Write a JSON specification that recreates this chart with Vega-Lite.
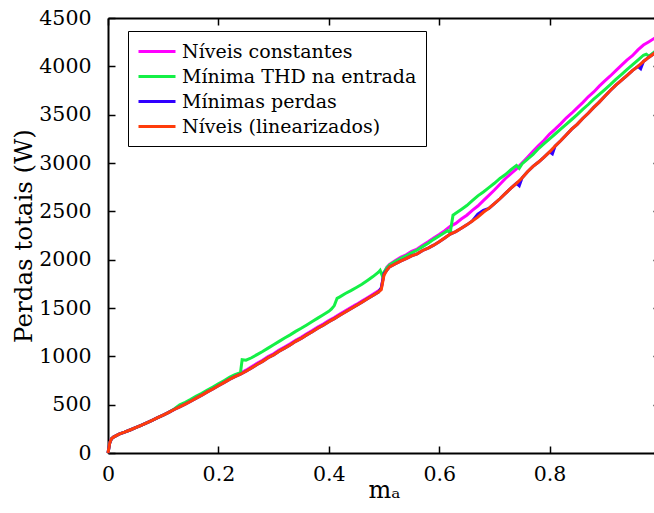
{
  "$schema": "https://vega.github.io/schema/vega-lite/v6.json",
  "width": 552,
  "height": 435,
  "autosize": {"type": "none"},
  "padding": {"left": 108, "top": 18, "right": 0, "bottom": 60},
  "background": "white",
  "datasets": {
    "l": [
      {"x":0,"y":0},{"x":0.003,"y":100},{"x":0.006,"y":145},{"x":0.01,"y":165},{"x":0.02,"y":195},{"x":0.03,"y":215},{"x":0.04,"y":238},{"x":0.05,"y":262},{"x":0.06,"y":287},{"x":0.07,"y":312},{"x":0.08,"y":338},{"x":0.09,"y":365},{"x":0.1,"y":392},{"x":0.11,"y":420},{"x":0.12,"y":450},{"x":0.13,"y":478},{"x":0.14,"y":505},{"x":0.15,"y":535},{"x":0.16,"y":568},{"x":0.17,"y":598},{"x":0.18,"y":632},{"x":0.19,"y":662},{"x":0.2,"y":695},{"x":0.21,"y":728},{"x":0.22,"y":762},{"x":0.23,"y":790},{"x":0.24,"y":815},{"x":0.25,"y":845},{"x":0.26,"y":880},{"x":0.27,"y":915},{"x":0.28,"y":948},{"x":0.29,"y":985},{"x":0.3,"y":1015},{"x":0.31,"y":1052},{"x":0.32,"y":1085},{"x":0.33,"y":1118},{"x":0.34,"y":1155},{"x":0.35,"y":1185},{"x":0.36,"y":1222},{"x":0.37,"y":1255},{"x":0.38,"y":1290},{"x":0.39,"y":1322},{"x":0.4,"y":1358},{"x":0.41,"y":1390},{"x":0.42,"y":1425},{"x":0.43,"y":1458},{"x":0.44,"y":1492},{"x":0.45,"y":1525},{"x":0.46,"y":1560},{"x":0.47,"y":1595},{"x":0.48,"y":1630},{"x":0.49,"y":1665},{"x":0.495,"y":1690},{"x":0.5,"y":1840},{"x":0.505,"y":1890},{"x":0.51,"y":1925},{"x":0.52,"y":1955},{"x":0.53,"y":1985},{"x":0.54,"y":2010},{"x":0.55,"y":2040},{"x":0.56,"y":2060},{"x":0.57,"y":2095},{"x":0.58,"y":2120},{"x":0.59,"y":2150},{"x":0.6,"y":2185},{"x":0.61,"y":2225},{"x":0.62,"y":2265},{"x":0.63,"y":2290},{"x":0.64,"y":2325},{"x":0.65,"y":2360},{"x":0.66,"y":2400},{"x":0.67,"y":2440},{"x":0.68,"y":2490},{"x":0.69,"y":2530},{"x":0.7,"y":2580},{"x":0.71,"y":2630},{"x":0.72,"y":2685},{"x":0.73,"y":2740},{"x":0.74,"y":2790},{"x":0.75,"y":2845},{"x":0.76,"y":2910},{"x":0.77,"y":2965},{"x":0.78,"y":3010},{"x":0.79,"y":3060},{"x":0.8,"y":3115},{"x":0.81,"y":3175},{"x":0.82,"y":3230},{"x":0.83,"y":3290},{"x":0.84,"y":3350},{"x":0.85,"y":3400},{"x":0.86,"y":3460},{"x":0.87,"y":3515},{"x":0.88,"y":3575},{"x":0.89,"y":3630},{"x":0.9,"y":3690},{"x":0.91,"y":3750},{"x":0.92,"y":3805},{"x":0.93,"y":3855},{"x":0.94,"y":3905},{"x":0.95,"y":3955},{"x":0.96,"y":4000},{"x":0.97,"y":4050},{"x":0.98,"y":4095},{"x":0.99,"y":4135},{"x":1.0,"y":4175}
    ],
    "p": [
      {"x":0,"y":0},{"x":0.003,"y":100},{"x":0.006,"y":145},{"x":0.01,"y":165},{"x":0.02,"y":195},{"x":0.03,"y":215},{"x":0.04,"y":238},{"x":0.05,"y":262},{"x":0.06,"y":287},{"x":0.07,"y":312},{"x":0.08,"y":338},{"x":0.09,"y":365},{"x":0.1,"y":392},{"x":0.11,"y":420},{"x":0.12,"y":450},{"x":0.13,"y":478},{"x":0.14,"y":505},{"x":0.15,"y":535},{"x":0.16,"y":568},{"x":0.17,"y":598},{"x":0.18,"y":632},{"x":0.19,"y":662},{"x":0.2,"y":695},{"x":0.21,"y":728},{"x":0.22,"y":762},{"x":0.23,"y":790},{"x":0.24,"y":815},{"x":0.25,"y":845},{"x":0.26,"y":880},{"x":0.27,"y":915},{"x":0.28,"y":948},{"x":0.29,"y":985},{"x":0.3,"y":1015},{"x":0.31,"y":1052},{"x":0.32,"y":1085},{"x":0.33,"y":1118},{"x":0.34,"y":1155},{"x":0.35,"y":1185},{"x":0.36,"y":1222},{"x":0.37,"y":1255},{"x":0.38,"y":1290},{"x":0.39,"y":1322},{"x":0.4,"y":1358},{"x":0.41,"y":1390},{"x":0.42,"y":1425},{"x":0.43,"y":1458},{"x":0.44,"y":1492},{"x":0.45,"y":1525},{"x":0.46,"y":1560},{"x":0.47,"y":1595},{"x":0.48,"y":1630},{"x":0.49,"y":1665},{"x":0.495,"y":1710},{"x":0.5,"y":1855},{"x":0.505,"y":1890},{"x":0.51,"y":1925},{"x":0.52,"y":1955},{"x":0.53,"y":1985},{"x":0.54,"y":2010},{"x":0.55,"y":2040},{"x":0.56,"y":2060},{"x":0.57,"y":2095},{"x":0.58,"y":2120},{"x":0.59,"y":2150},{"x":0.6,"y":2185},{"x":0.61,"y":2225},{"x":0.62,"y":2265},{"x":0.63,"y":2290},{"x":0.64,"y":2325},{"x":0.65,"y":2360},{"x":0.66,"y":2400},{"x":0.67,"y":2470},{"x":0.68,"y":2510},{"x":0.69,"y":2530},{"x":0.7,"y":2580},{"x":0.71,"y":2630},{"x":0.72,"y":2685},{"x":0.73,"y":2740},{"x":0.74,"y":2790},{"x":0.745,"y":2765},{"x":0.75,"y":2845},{"x":0.76,"y":2910},{"x":0.77,"y":2965},{"x":0.78,"y":3010},{"x":0.79,"y":3060},{"x":0.8,"y":3115},{"x":0.805,"y":3095},{"x":0.81,"y":3175},{"x":0.82,"y":3230},{"x":0.83,"y":3290},{"x":0.84,"y":3350},{"x":0.85,"y":3400},{"x":0.86,"y":3460},{"x":0.87,"y":3515},{"x":0.88,"y":3575},{"x":0.89,"y":3630},{"x":0.9,"y":3690},{"x":0.91,"y":3750},{"x":0.92,"y":3805},{"x":0.93,"y":3855},{"x":0.94,"y":3905},{"x":0.95,"y":3955},{"x":0.96,"y":4000},{"x":0.965,"y":3975},{"x":0.97,"y":4050},{"x":0.98,"y":4095},{"x":0.99,"y":4135},{"x":1.0,"y":4175}
    ],
    "c": [
      {"x":0,"y":0},{"x":0.003,"y":100},{"x":0.006,"y":145},{"x":0.01,"y":165},{"x":0.02,"y":195},{"x":0.03,"y":215},{"x":0.04,"y":238},{"x":0.05,"y":262},{"x":0.06,"y":287},{"x":0.07,"y":312},{"x":0.08,"y":338},{"x":0.09,"y":365},{"x":0.1,"y":392},{"x":0.11,"y":420},{"x":0.12,"y":452},{"x":0.13,"y":488},{"x":0.14,"y":515},{"x":0.15,"y":545},{"x":0.16,"y":578},{"x":0.17,"y":608},{"x":0.18,"y":642},{"x":0.19,"y":672},{"x":0.2,"y":705},{"x":0.21,"y":738},{"x":0.22,"y":772},{"x":0.23,"y":800},{"x":0.24,"y":825},{"x":0.25,"y":857},{"x":0.26,"y":892},{"x":0.27,"y":927},{"x":0.28,"y":960},{"x":0.29,"y":997},{"x":0.3,"y":1027},{"x":0.31,"y":1064},{"x":0.32,"y":1097},{"x":0.33,"y":1130},{"x":0.34,"y":1167},{"x":0.35,"y":1197},{"x":0.36,"y":1234},{"x":0.37,"y":1267},{"x":0.38,"y":1302},{"x":0.39,"y":1334},{"x":0.4,"y":1370},{"x":0.41,"y":1402},{"x":0.42,"y":1437},{"x":0.43,"y":1470},{"x":0.44,"y":1504},{"x":0.45,"y":1537},{"x":0.46,"y":1572},{"x":0.47,"y":1607},{"x":0.48,"y":1642},{"x":0.49,"y":1677},{"x":0.495,"y":1700},{"x":0.5,"y":1860},{"x":0.505,"y":1920},{"x":0.51,"y":1950},{"x":0.52,"y":1990},{"x":0.53,"y":2025},{"x":0.54,"y":2050},{"x":0.55,"y":2085},{"x":0.56,"y":2110},{"x":0.57,"y":2150},{"x":0.58,"y":2185},{"x":0.59,"y":2225},{"x":0.6,"y":2260},{"x":0.61,"y":2300},{"x":0.62,"y":2345},{"x":0.63,"y":2375},{"x":0.64,"y":2420},{"x":0.65,"y":2460},{"x":0.66,"y":2510},{"x":0.67,"y":2555},{"x":0.68,"y":2610},{"x":0.69,"y":2665},{"x":0.7,"y":2720},{"x":0.71,"y":2780},{"x":0.72,"y":2840},{"x":0.73,"y":2890},{"x":0.74,"y":2940},{"x":0.75,"y":3000},{"x":0.76,"y":3060},{"x":0.77,"y":3120},{"x":0.78,"y":3180},{"x":0.79,"y":3235},{"x":0.8,"y":3300},{"x":0.81,"y":3350},{"x":0.82,"y":3405},{"x":0.83,"y":3465},{"x":0.84,"y":3515},{"x":0.85,"y":3570},{"x":0.86,"y":3625},{"x":0.87,"y":3685},{"x":0.88,"y":3735},{"x":0.89,"y":3795},{"x":0.9,"y":3850},{"x":0.91,"y":3900},{"x":0.92,"y":3955},{"x":0.93,"y":4010},{"x":0.94,"y":4065},{"x":0.95,"y":4110},{"x":0.96,"y":4170},{"x":0.97,"y":4220},{"x":0.98,"y":4255},{"x":0.99,"y":4290},{"x":1.0,"y":4320}
    ],
    "t": [
      {"x":0,"y":0},{"x":0.003,"y":100},{"x":0.006,"y":145},{"x":0.01,"y":165},{"x":0.02,"y":195},{"x":0.03,"y":215},{"x":0.04,"y":238},{"x":0.05,"y":262},{"x":0.06,"y":287},{"x":0.07,"y":312},{"x":0.08,"y":338},{"x":0.09,"y":365},{"x":0.1,"y":392},{"x":0.11,"y":420},{"x":0.12,"y":455},{"x":0.13,"y":498},{"x":0.14,"y":525},{"x":0.15,"y":555},{"x":0.16,"y":588},{"x":0.17,"y":618},{"x":0.18,"y":652},{"x":0.19,"y":682},{"x":0.2,"y":715},{"x":0.21,"y":748},{"x":0.22,"y":782},{"x":0.23,"y":810},{"x":0.24,"y":832},{"x":0.243,"y":965},{"x":0.25,"y":960},{"x":0.26,"y":985},{"x":0.27,"y":1018},{"x":0.28,"y":1050},{"x":0.29,"y":1085},{"x":0.3,"y":1120},{"x":0.31,"y":1155},{"x":0.32,"y":1190},{"x":0.33,"y":1222},{"x":0.34,"y":1258},{"x":0.35,"y":1290},{"x":0.36,"y":1325},{"x":0.37,"y":1360},{"x":0.38,"y":1395},{"x":0.39,"y":1430},{"x":0.4,"y":1465},{"x":0.405,"y":1490},{"x":0.41,"y":1525},{"x":0.415,"y":1600},{"x":0.42,"y":1615},{"x":0.43,"y":1650},{"x":0.44,"y":1680},{"x":0.45,"y":1712},{"x":0.46,"y":1745},{"x":0.47,"y":1785},{"x":0.48,"y":1825},{"x":0.49,"y":1870},{"x":0.493,"y":1890},{"x":0.497,"y":1830},{"x":0.5,"y":1870},{"x":0.505,"y":1915},{"x":0.51,"y":1945},{"x":0.52,"y":1980},{"x":0.53,"y":2010},{"x":0.54,"y":2040},{"x":0.55,"y":2070},{"x":0.56,"y":2100},{"x":0.57,"y":2135},{"x":0.58,"y":2170},{"x":0.59,"y":2210},{"x":0.6,"y":2245},{"x":0.61,"y":2280},{"x":0.615,"y":2300},{"x":0.62,"y":2280},{"x":0.625,"y":2460},{"x":0.63,"y":2480},{"x":0.64,"y":2520},{"x":0.65,"y":2560},{"x":0.66,"y":2610},{"x":0.67,"y":2660},{"x":0.68,"y":2700},{"x":0.69,"y":2745},{"x":0.7,"y":2790},{"x":0.71,"y":2840},{"x":0.72,"y":2880},{"x":0.73,"y":2930},{"x":0.74,"y":2975},{"x":0.745,"y":2945},{"x":0.75,"y":2990},{"x":0.76,"y":3040},{"x":0.77,"y":3090},{"x":0.78,"y":3150},{"x":0.79,"y":3200},{"x":0.8,"y":3250},{"x":0.81,"y":3300},{"x":0.82,"y":3350},{"x":0.83,"y":3400},{"x":0.84,"y":3450},{"x":0.85,"y":3500},{"x":0.86,"y":3555},{"x":0.87,"y":3605},{"x":0.88,"y":3660},{"x":0.89,"y":3710},{"x":0.9,"y":3760},{"x":0.91,"y":3810},{"x":0.92,"y":3865},{"x":0.93,"y":3915},{"x":0.94,"y":3965},{"x":0.95,"y":4015},{"x":0.96,"y":4065},{"x":0.97,"y":4115},{"x":0.975,"y":4125},{"x":0.98,"y":4105},{"x":0.99,"y":4150},{"x":1.0,"y":4195}
    ]
  },
  "config": {
    "view": {"stroke": null},
    "font": "DejaVu Serif",
    "axis": {
      "grid": false,
      "domainColor": "black",
      "domainWidth": 2,
      "tickColor": "black",
      "tickWidth": 1.5,
      "tickSize": -7,
      "labelFont": "DejaVu Serif",
      "labelFontSize": 20.5,
      "labelColor": "black",
      "labelFlush": false,
      "titleFont": "DejaVu Serif",
      "titleFontSize": 24.5,
      "titleFontWeight": "normal",
      "titleColor": "black"
    },
    "line": {"strokeWidth": 3}
  },
  "layer": [
    {
      "encoding": {
        "x": {"field": "x", "type": "quantitative", "scale": {"domain": [0, 1], "nice": false},
              "axis": {"values": [0, 0.2, 0.4, 0.6, 0.8], "format": "~g", "title": "mₐ", "titleFontSize": 24, "labelPadding": 18, "titlePadding": -6}},
        "y": {"field": "y", "type": "quantitative", "scale": {"domain": [0, 4500], "nice": false},
              "axis": {"values": [0, 500, 1000, 1500, 2000, 2500, 3000, 3500, 4000, 4500], "format": "d", "title": "Perdas totais (W)", "labelPadding": 24, "titlePadding": 2}}
      },
      "layer": [
        {"data": {"name": "c"}, "mark": {"type": "line"},
         "encoding": {"color": {"datum": "Níveis constantes", "type": "nominal",
           "scale": {"domain": ["Níveis constantes", "Mínima THD na entrada", "Mínimas perdas", "Níveis (linearizados)"], "range": ["#ff00ff", "#14f046", "#3000ff", "#ff3c0a"]},
           "legend": {"orient": "none", "legendX": 20, "legendY": 13, "title": null, "symbolType": "M-1,0H2.7", "symbolStrokeWidth": 4, "symbolSize": 400, "labelFont": "DejaVu Serif", "labelFontSize": 19, "labelColor": "black", "padding": 9, "rowPadding": 3, "labelOffset": 22, "strokeColor": "black", "fillColor": "white", "labelLimit": 400}}}},
        {"data": {"name": "t"}, "mark": {"type": "line"},
         "encoding": {"color": {"datum": "Mínima THD na entrada", "type": "nominal"}}},
        {"data": {"name": "p"}, "mark": {"type": "line"},
         "encoding": {"color": {"datum": "Mínimas perdas", "type": "nominal"}}},
        {"data": {"name": "l"}, "mark": {"type": "line"},
         "encoding": {"color": {"datum": "Níveis (linearizados)", "type": "nominal"}}}
      ]
    },
    {
      "data": {"name": "l"},
      "mark": {"type": "line", "opacity": 0},
      "encoding": {
        "x": {"field": "x", "type": "quantitative", "scale": {"domain": [0, 1], "nice": false},
              "axis": {"orient": "top", "values": [0, 0.2, 0.4, 0.6, 0.8], "labels": false, "title": null}},
        "y": {"field": "y", "type": "quantitative", "scale": {"domain": [0, 4500], "nice": false},
              "axis": {"orient": "right", "values": [0, 500, 1000, 1500, 2000, 2500, 3000, 3500, 4000, 4500], "labels": false, "title": null}}
      }
    }
  ],
  "resolve": {"axis": {"x": "independent", "y": "independent"}}
}
